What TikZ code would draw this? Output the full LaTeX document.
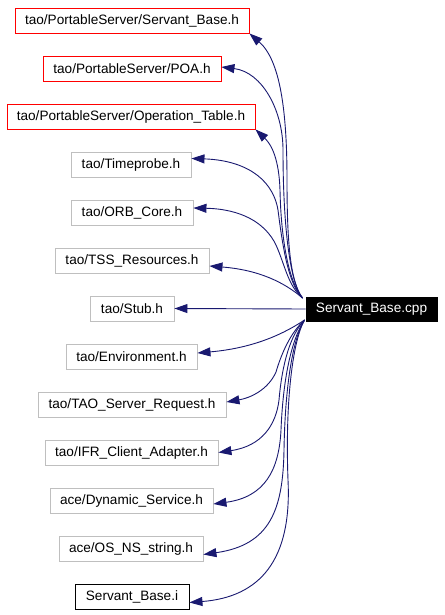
\documentclass[tikz,border=0pt]{standalone}
\usepackage{fontspec}
\setmainfont{Liberation Sans}
\usetikzlibrary{arrows.meta}
\definecolor{edgeblue}{HTML}{191970}
\definecolor{boxgray}{HTML}{BFBFBF}
\tikzset{
  box/.style={draw, rectangle, minimum height=25pt, inner sep=0pt, line width=0.9pt,
    font=\fontsize{13.6pt}{15pt}\selectfont, text=black},
  redbox/.style={box, draw=red},
  graybox/.style={box, draw=boxgray},
  blackbox/.style={box, draw=black},
  edge/.style={draw=edgeblue, line width=0.9pt, -{Triangle[length=13pt,width=9pt]}, fill=none},
}
\begin{document}
\begin{tikzpicture}[x=1pt,y=-1pt]
\useasboundingbox (0,0) rectangle (444,615);
\node[redbox, minimum width=234pt] (n1) at (132,20.5) {tao/PortableServer/Servant\_Base.h};
\node[redbox, minimum width=178pt] (n2) at (132,68.5) {tao/PortableServer/POA.h};
\node[redbox, minimum width=248pt] (n3) at (131,116.5) {tao/PortableServer/Operation\_Table.h};
\node[graybox, minimum width=120pt] (n4) at (131,164.5) {tao/Timeprobe.h};
\node[graybox, minimum width=122pt] (n5) at (132,212.5) {tao/ORB\_Core.h};
\node[graybox, minimum width=154pt] (n6) at (132,260.5) {tao/TSS\_Resources.h};
\node[graybox, minimum width=84pt] (n7) at (132,308.5) {tao/Stub.h};
\node[graybox, minimum width=131pt] (n8) at (131.5,356.5) {tao/Environment.h};
\node[graybox, minimum width=188pt] (n9) at (132,404.5) {tao/TAO\_Server\_Request.h};
\node[graybox, minimum width=173pt] (n10) at (131.5,452.5) {tao/IFR\_Client\_Adapter.h};
\node[graybox, minimum width=163pt] (n11) at (131.5,500.5) {ace/Dynamic\_Service.h};
\node[graybox, minimum width=144pt] (n12) at (131,548.5) {ace/OS\_NS\_string.h};
\node[blackbox, minimum width=114pt] (n13) at (132,596.5) {Servant\_Base.i};
\node[box, draw=black, fill=black, text=white, minimum width=131pt, minimum height=24pt] (cpp) at (371.5,309) {Servant\_Base.cpp};

\path (cpp.west) ++(-3,-11) coordinate (top);
\path (cpp.west) ++(-1,11) coordinate (bot);

\draw[edge] (top) .. controls (290,282) and (287,240) .. (287,180) .. controls (287,110) and (280,60) .. (n1.south east);
\draw[edge] (top) .. controls (289,282) and (283,220) .. (283,150) .. controls (283,110) and (262,72) .. ([yshift=1.5pt]n2.east);
\draw[edge] (top) .. controls (289,283) and (281,240) .. (280,190) .. controls (279,160) and (272,145) .. (n3.south east);
\draw[edge] (top) .. controls (289,285) and (283,250) .. (278,210) .. controls (272,175) and (240,160) .. ([yshift=6pt]n4.east);
\draw[edge] (top) .. controls (288,286) and (285,265) .. (276,245) .. controls (265,222) and (240,209) .. ([yshift=4.5pt]n5.east);
\draw[edge] (top) .. controls (285,283) and (260,270) .. ([yshift=-5.5pt]n6.east);
\draw[edge] (cpp.west) -- (n7.east);
\draw[edge] (bot) .. controls (285,333) and (255,348) .. ([yshift=3.5pt]n8.east);
\draw[edge] (bot) .. controls (290,333) and (281,355) .. (276,372) .. controls (268,390) and (250,398) .. ([yshift=2.5pt]n9.east);
\draw[edge] (bot) .. controls (290,335) and (282,365) .. (279,400) .. controls (276,425) and (262,446) .. (n10.east);
\draw[edge] (bot) .. controls (291,340) and (283,380) .. (281,430) .. controls (279,470) and (265,497) .. ([yshift=-3.5pt]n11.east);
\draw[edge] (bot) .. controls (292,340) and (285,390) .. (284,450) .. controls (283,510) and (270,545) .. ([yshift=-6pt]n12.east);
\draw[edge] (bot) .. controls (293,340) and (285,400) .. (288,480) .. controls (292,560) and (260,597) .. ([yshift=-6pt]n13.east);
\end{tikzpicture}
\end{document}
